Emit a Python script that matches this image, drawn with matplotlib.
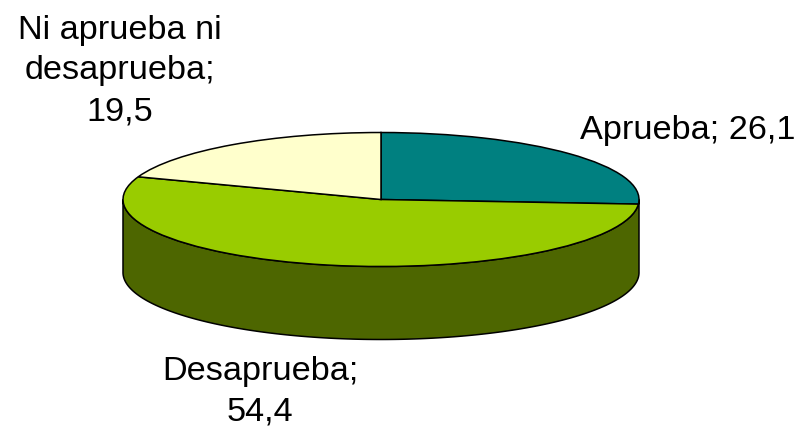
import numpy as np
import matplotlib
matplotlib.use("Agg")
import matplotlib.pyplot as plt
from matplotlib.patches import Wedge, Polygon
from matplotlib.transforms import Affine2D

labels = ["Aprueba; 26,1", "Desaprueba;\n54,4", "Ni aprueba ni\ndesaprueba;\n19,5"]
values = [26.1, 54.4, 19.5]
colors = ["#008080", "#99CC00", "#FFFFCC"]
side_color = "#4D6600"

plt.rcParams["font.family"] = ["Liberation Sans", "DejaVu Sans"]
fig = plt.figure(figsize=(7.97, 4.31), dpi=100)
ax = fig.add_axes([0, 0, 1, 1])
ax.set_xlim(0, 797)
ax.set_ylim(431, 0)
ax.axis("off")

cx, cy, a, b, depth = 381, 200.5, 258, 67, 73

# Side wall of the disc
t = np.linspace(0, np.pi, 300)
xs = cx + a * np.cos(t)
ys = cy + b * np.sin(t)
wall = np.vstack([np.column_stack([xs, ys]),
                  np.column_stack([xs[::-1], ys[::-1] + depth])])
ax.add_patch(Polygon(wall, closed=True, facecolor=side_color,
                     edgecolor="black", linewidth=1.1, zorder=1))

# Top face, clockwise from 12 o'clock
tf = Affine2D().scale(a, -b).translate(cx, cy) + ax.transData
start = 90.0
for val, col in zip(values, colors):
    sweep = 360.0 * val / sum(values)
    ax.add_patch(Wedge((0, 0), 1, start - sweep, start, facecolor=col,
                       edgecolor="black", linewidth=1.1, transform=tf, zorder=2))
    start -= sweep

# Labels
fs = 24.7
ax.text(795.5, 130.5, labels[0], ha="right", va="center", fontsize=fs, color="black")
ax.text(260, 392, labels[1], ha="center", va="center", fontsize=fs, color="black",
        linespacing=1.4)
ax.text(119.5, 71, labels[2], ha="center", va="center", fontsize=fs, color="black",
        linespacing=1.4)

fig.savefig("out.png", dpi=100)
